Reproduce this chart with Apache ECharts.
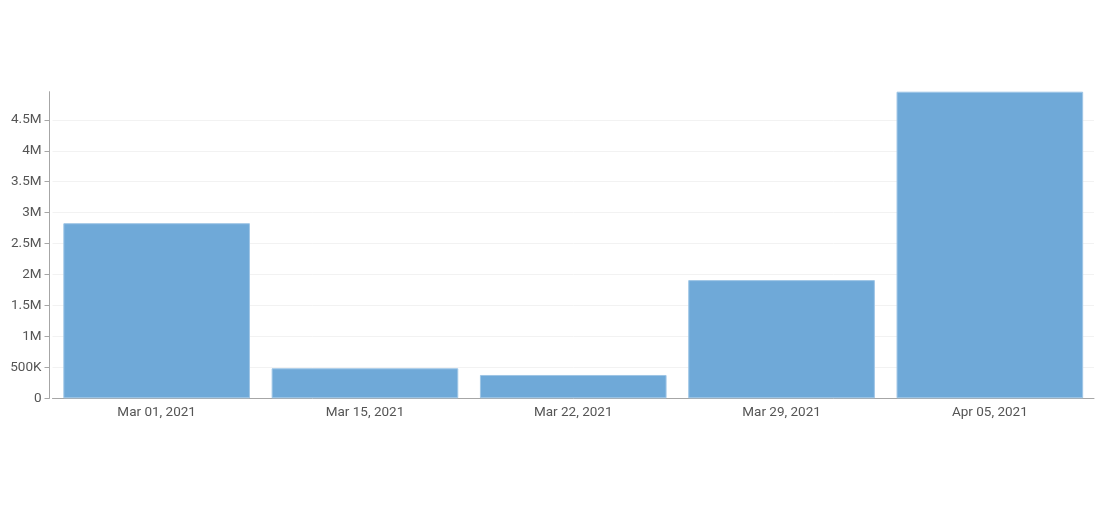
<!DOCTYPE html>
<html>
<head>
<meta charset="utf-8">
<script src="https://cdn.jsdelivr.net/npm/echarts@6/dist/echarts.min.js"></script>
<style>
  html, body { margin: 0; padding: 0; background: #fff; }
  #chart { width: 1096px; height: 515px; }
</style>
</head>
<body>
<div id="chart"></div>
<script>
// data
var weeks = ['Mar 01, 2021', 'Mar 15, 2021', 'Mar 22, 2021', 'Mar 29, 2021', 'Apr 05, 2021'];
var totals = [2830000, 485000, 377000, 1910000, 4955000];

var chartDom = document.getElementById('chart');
var myChart = echarts.init(chartDom);

function fmtValue(v) {
    if (v === 0) return '0';
    if (v >= 1000000) return (v / 1000000) + 'M';
    return (v / 1000) + 'K';
}

var option = {
    animation: false,
    textStyle: { fontFamily: 'Roboto' },
    grid: {
        left: 52.5,
        right: 2,
        top: 91.7,
        bottom: 116.7
    },
    xAxis: {
        type: 'category',
        data: weeks,
        axisLine: { lineStyle: { color: '#a6a6a6' } },
        axisTick: { alignWithLabel: true, length: 5, lineStyle: { color: '#a6a6a6' } },
        axisLabel: { color: '#555', fontSize: 13.5, margin: 7 }
    },
    yAxis: {
        type: 'value',
        min: 0,
        max: 'dataMax',
        interval: 500000,
        offset: 3,
        axisLine: { show: true, lineStyle: { color: '#a6a6a6' } },
        axisTick: { show: true, length: 5, lineStyle: { color: '#a6a6a6' } },
        axisLabel: { color: '#555', fontSize: 13.5, margin: 8, formatter: fmtValue, showMaxLabel: false },
        splitLine: { showMaxLine: false, lineStyle: { color: '#f2f2f2' } }
    },
    series: [
        {
            name: 'Total',
            type: 'bar',
            data: totals,
            barCategoryGap: '10.4%',
            itemStyle: {
                color: '#6fa9d8',
                borderColor: '#9fc6e6',
                borderWidth: 1
            }
        }
    ]
};

option && myChart.setOption(option);
</script>
</body>
</html>
